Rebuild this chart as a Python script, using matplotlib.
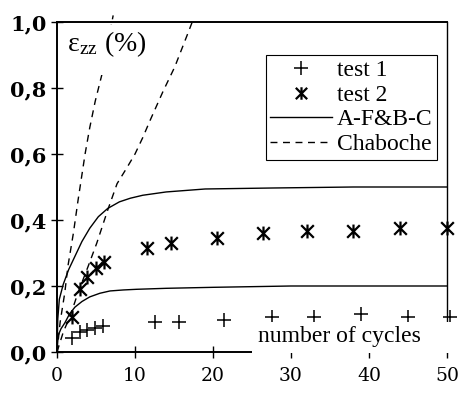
import matplotlib
matplotlib.use("Agg")
import matplotlib.pyplot as plt
from matplotlib.lines import Line2D
from matplotlib.patches import Rectangle
from matplotlib.path import Path

plt.rcParams["font.family"] = ["Liberation Serif", "DejaVu Serif"]
plt.rcParams["mathtext.fontset"] = "stix"

# test 1 (+)
test1_x = [1.9, 2.9, 3.9, 4.9, 5.9, 12.5, 15.6, 21.4, 27.5, 33, 39, 45, 50.4]
test1_y = [0.042, 0.061, 0.067, 0.074, 0.079, 0.09, 0.09, 0.097, 0.106, 0.106, 0.115, 0.106, 0.106]
# test 2 (asterisk)
test2_x = [1.9, 2.9, 3.9, 5.0, 6.0, 11.6, 14.6, 20.5, 26.4, 32, 38, 44, 50]
test2_y = [0.106, 0.19, 0.227, 0.254, 0.274, 0.316, 0.331, 0.346, 0.36, 0.366, 0.367, 0.375, 0.376]
# A-F&B-C model, two curves
afbc_up_x = [0, 0.1, 0.3, 0.8, 1.5, 2.3, 3.2, 4.2, 5.3, 6.5, 8, 9.4, 11, 14, 19, 27.7, 38, 50]
afbc_up_y = [0, 0.1, 0.16, 0.205, 0.25, 0.29, 0.335, 0.375, 0.41, 0.435, 0.455, 0.466, 0.475, 0.485, 0.494, 0.497, 0.5, 0.5]
afbc_lo_x = [0, 0.15, 0.5, 1.0, 1.6, 2.3, 3.2, 4.2, 5.5, 6.8, 8.5, 10.2, 14, 20, 30, 50]
afbc_lo_y = [0, 0.05, 0.07, 0.088, 0.115, 0.136, 0.153, 0.167, 0.178, 0.185, 0.188, 0.19, 0.193, 0.196, 0.2, 0.2]
# Chaboche model, two curves
chab_a_x = [0, 0.4, 1.0, 1.4, 2.1, 2.7, 3.6, 4.2, 4.9, 5.8, 7.2]
chab_a_y = [0, 0.09, 0.18, 0.26, 0.36, 0.46, 0.6, 0.68, 0.76, 0.845, 1.02]
chab_b_x = [0, 0.8, 1.7, 2.7, 4.0, 5.1, 6.5, 7.7, 9.0, 10.0, 11.0, 11.9, 13.6, 15.1, 16.8, 17.5]
chab_b_y = [0, 0.06, 0.11, 0.18, 0.26, 0.33, 0.43, 0.51, 0.56, 0.6, 0.65, 0.70, 0.79, 0.864, 0.967, 1.01]

xticks = [0, 10, 20, 30, 40, 50]
yticks = [0.0, 0.2, 0.4, 0.6, 0.8, 1.0]
ytick_labels = ["0,0", "0,2", "0,4", "0,6", "0,8", "1,0"]

# X with a vertical bar through it
STAR = Path([(-1, -1), (1, 1), (-1, 1), (1, -1), (0, -1.1), (0, 1.1)],
            [Path.MOVETO, Path.LINETO] * 3)
DASH = (0, (5, 4))

fig = plt.figure(figsize=(4.58, 3.95), dpi=100)
ax = fig.add_axes([57 / 458, 1 - 352 / 395, 390 / 458, 330 / 395])

ax.plot(afbc_up_x, afbc_up_y, color="black", lw=1.0)
ax.plot(afbc_lo_x, afbc_lo_y, color="black", lw=1.0)
ax.plot(chab_a_x, chab_a_y, color="black", lw=1.0, ls=DASH, clip_on=False)
ax.plot(chab_b_x, chab_b_y, color="black", lw=1.0, ls=DASH, clip_on=False)
ax.plot(test1_x, test1_y, ls="none", marker="+", ms=10, mew=1.1, color="black", clip_on=False)
ax.plot(test2_x, test2_y, ls="none", marker=STAR, ms=10, mew=1.6, color="black", clip_on=False)

ax.set_xlim(0, 50)
ax.set_ylim(0, 1.0)
ax.set_xticks(xticks)
ax.set_xticklabels([str(v) for v in xticks], fontsize=13.5, family="DejaVu Serif")
ax.set_yticks(yticks)
ax.set_yticklabels(ytick_labels, fontsize=15, fontweight="bold", family="DejaVu Serif")
ax.tick_params(axis="both", direction="inout", length=9, width=1.0, color="black")
ax.tick_params(axis="x", pad=6)
ax.tick_params(axis="y", pad=3)
for s in ax.spines.values():
    s.set_linewidth(1.4)
ax.spines["right"].set_linewidth(1.0)

# white patches behind the in-plot labels
ax.add_patch(Rectangle((0.013, 0.84), 0.25, 0.152, transform=ax.transAxes,
                       facecolor="white", edgecolor="none", zorder=3, clip_on=False))
ax.add_patch(Rectangle((0.50, -0.004), 0.53, 0.095, transform=ax.transAxes,
                       facecolor="white", edgecolor="none", zorder=3, clip_on=False))

ax.text(0.026, 0.912, r"$\mathregular{\varepsilon}_{\mathregular{zz}}$ (%)", transform=ax.transAxes,
        fontsize=20, ha="left", va="baseline", zorder=4)
ax.text(0.515, 0.03, "number of cycles", transform=ax.transAxes, fontsize=17,
        ha="left", va="baseline", zorder=4)

handles = [
    Line2D([], [], ls="none", marker="+", ms=10, mew=1.1, color="black"),
    Line2D([], [], ls="none", marker=STAR, ms=9, mew=1.6, color="black"),
    Line2D([], [], color="black", lw=1.0),
    Line2D([], [], color="black", lw=1.0, ls=DASH),
]
leg = ax.legend(handles, ["test 1", "test 2", "A-F&B-C", "Chaboche"],
                loc="upper right", bbox_to_anchor=(0.974, 0.90), fontsize=17,
                frameon=True, fancybox=False, edgecolor="black", framealpha=1,
                borderpad=0.2, labelspacing=0.13, handlelength=2.6, handletextpad=0.2,
                borderaxespad=0.0)
leg.get_frame().set_linewidth(0.8)
leg.set_zorder(5)

fig.savefig("out.png", dpi=100)
